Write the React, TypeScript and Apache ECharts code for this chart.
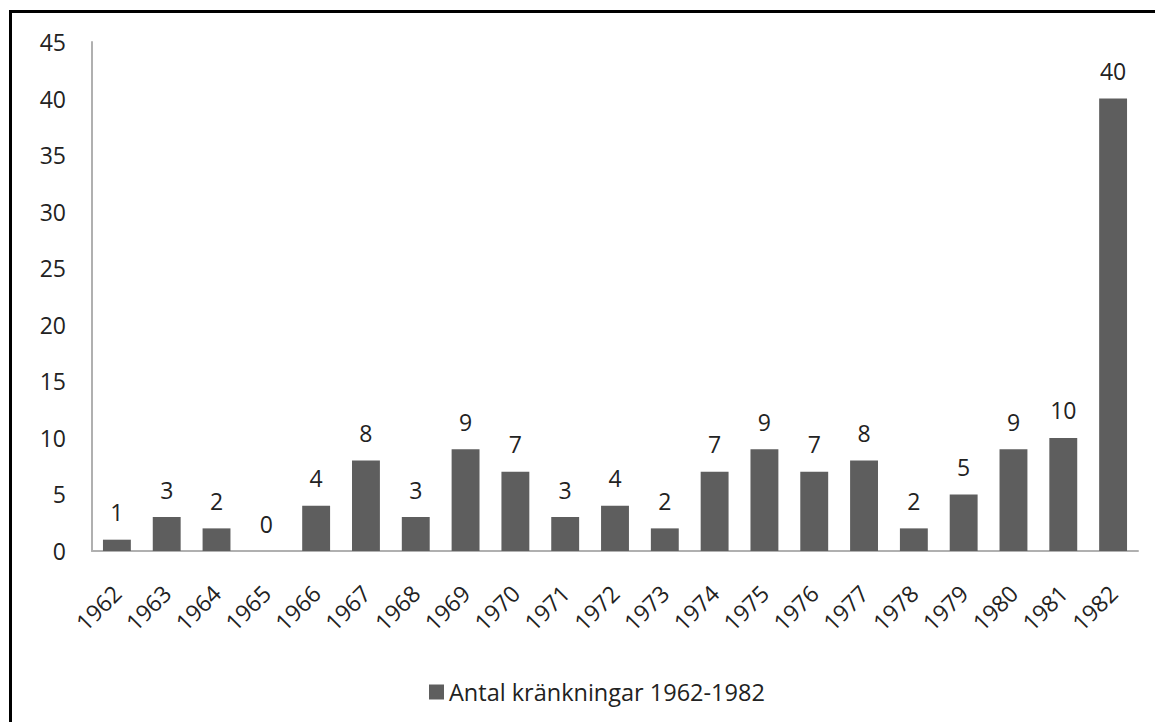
import React, { useEffect, useRef } from "react";
import * as echarts from "echarts";

const years = ["1962","1963","1964","1965","1966","1967","1968","1969","1970","1971","1972","1973","1974","1975","1976","1977","1978","1979","1980","1981","1982"];
const values = [1,3,2,0,4,8,3,9,7,3,4,2,7,9,7,8,2,5,9,10,40];
const seriesName = "Antal kränkningar 1962-1982";

export default function App() {
  const ref = useRef<HTMLDivElement>(null);
  useEffect(() => {
    const chart = echarts.init(ref.current!, null, { renderer: "svg" });
    const font = "'Open Sans', sans-serif";
    const fs = 23;
    chart.setOption({
      animation: false,
      backgroundColor: "#ffffff",
      textStyle: { fontFamily: font },
      graphic: [
        {
          type: "rect",
          shape: { x: 10.5, y: 11.5, width: 1200, height: 800 },
          style: { fill: "none", stroke: "#000", lineWidth: 3 },
          silent: true,
        },
      ],
      grid: { left: 92, right: 17, top: 42, bottom: 171, containLabel: false },
      legend: {
        bottom: 13,
        left: 424,
        itemWidth: 15,
        itemHeight: 15,
        itemGap: 6,
        icon: "rect",
        textStyle: { fontSize: 23.5, color: "#222", fontFamily: font },
        data: [seriesName],
      },
      xAxis: {
        type: "category",
        data: years,
        axisLine: { show: true, lineStyle: { color: "#b0b0b0", width: 2 } },
        axisTick: { show: false },
        axisLabel: { rotate: 45, fontSize: fs, color: "#222", margin: 38, fontFamily: font },
      },
      yAxis: {
        type: "value",
        min: 0,
        max: 45,
        interval: 5,
        splitLine: { show: false },
        axisLine: { show: true, lineStyle: { color: "#b0b0b0", width: 2 } },
        axisTick: { show: false },
        axisLabel: { fontSize: fs, color: "#222", margin: 26, fontFamily: font },
      },
      series: [
        {
          name: seriesName,
          type: "bar",
          data: values,
          barWidth: "56%",
          itemStyle: { color: "#5e5e5e" },
          label: { show: true, position: "top", distance: 16, fontSize: fs, color: "#222", fontFamily: font },
        },
      ],
    });
    return () => chart.dispose();
  }, []);
  return <div ref={ref} style={{ position: "absolute", left: 0, top: 0, width: 1155, height: 722 }} />;
}
